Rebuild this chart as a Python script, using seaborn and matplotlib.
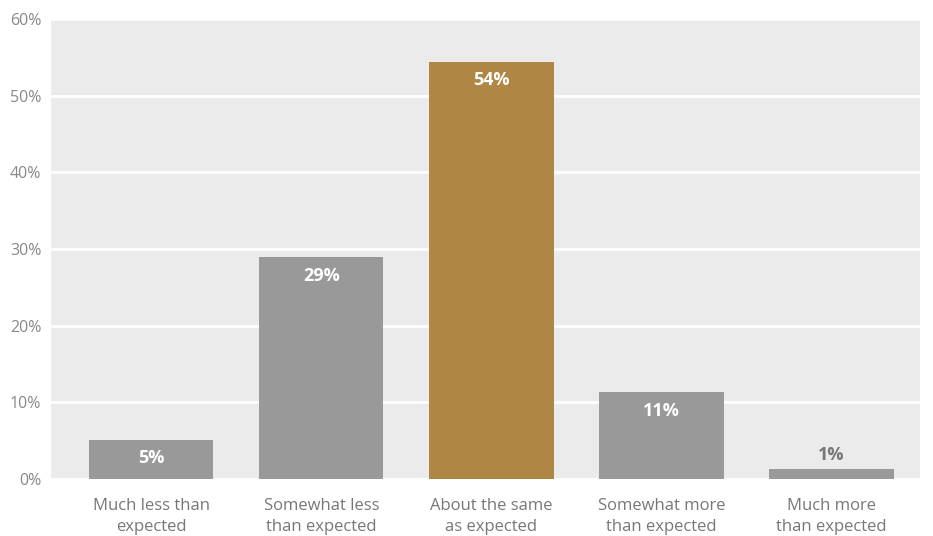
import matplotlib
matplotlib.use("Agg")
import matplotlib.pyplot as plt
import seaborn as sns
import pandas as pd

categories = [
    "Much less than\nexpected",
    "Somewhat less\nthan expected",
    "About the same\nas expected",
    "Somewhat more\nthan expected",
    "Much more\nthan expected",
]
values = [5.1, 28.9, 54.4, 11.3, 1.3]
bar_colors = ["#999999", "#999999", "#b08644", "#999999", "#999999"]
yticks = [0, 10, 20, 30, 40, 50, 60]

sns.set_theme(style="darkgrid")
plt.rcParams["font.family"] = ["Open Sans", "DejaVu Sans"]

df = pd.DataFrame({"category": categories, "value": values})

fig = plt.figure(figsize=(9.33, 5.36), dpi=100)
ax = fig.add_axes([51 / 933, 57 / 536, 869 / 933, 460 / 536])
ax.set_facecolor("#ebebeb")

sns.barplot(data=df, x="category", y="value", hue="category",
            palette=bar_colors, legend=False, width=0.73, saturation=1,
            linewidth=0, edgecolor="none", ax=ax, zorder=3)

ax.set_xlim(-0.59, 4.52)
ax.set_ylim(0, 60)
ax.set_yticks(yticks)
ax.set_yticklabels([f"{t}%" for t in yticks])
ax.grid(axis="y", color="white", linewidth=2)
ax.grid(axis="x", visible=False)
for s in ax.spines.values():
    s.set_visible(False)
ax.set_xlabel("")
ax.set_ylabel("")
ax.tick_params(axis="y", length=0, pad=7, labelsize=11.5, labelcolor="#888888")
ax.tick_params(axis="x", length=0, pad=14, labelsize=12, labelcolor="#777777")
for lbl in ax.get_xticklabels():
    lbl.set_linespacing(1.35)

for i, v in enumerate(values):
    txt = f"{v:.0f}%"
    if v > 3:
        ax.text(i, v - 1.2, txt, ha="center", va="top", color="white",
                fontsize=13, fontweight="bold", zorder=4)
    else:
        ax.text(i, v + 0.7, txt, ha="center", va="bottom", color="#777777",
                fontsize=13, fontweight="bold", zorder=4)

fig.savefig("out.png", dpi=100)
